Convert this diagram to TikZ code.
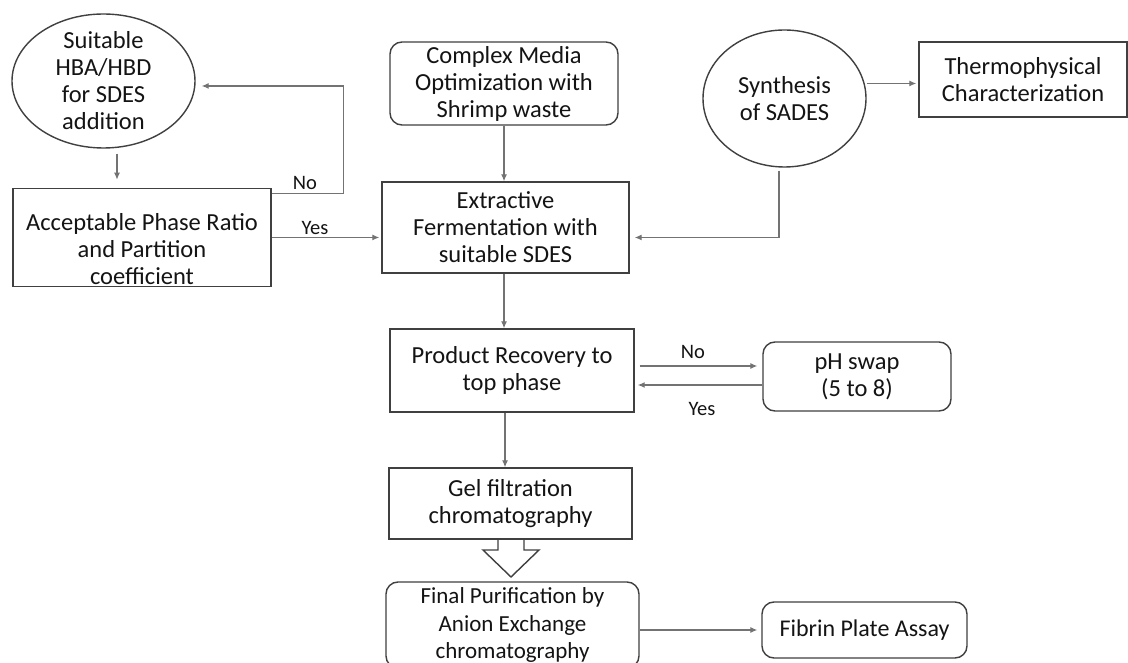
\documentclass[tikz,border=0pt]{standalone}
\usepackage{fontspec}
\setmainfont{Carlito}
\usetikzlibrary{shapes.geometric,arrows.meta}

\begin{document}
\begin{tikzpicture}[x=1pt,y=1pt,
  box/.style={draw=borderColor,line width=1.4pt,text=textColor,align=center,inner sep=2pt,font=\fontsize{24.5}{27}\selectfont},
  rbox/.style={box,rounded corners=12pt},
  oval/.style={box,ellipse,inner sep=-6pt},
  arr/.style={draw=lineColor,line width=1.2pt,-{Latex[length=7pt,width=6pt]}},
  lbl/.style={text=textColor,inner sep=0pt,font=\fontsize{20.5}{23}\selectfont}]
\definecolor[named]{borderColor}{rgb}{0.25,0.25,0.25}
\definecolor[named]{lineColor}{rgb}{0.45,0.45,0.45}
\definecolor[named]{textColor}{rgb}{0.08,0.08,0.08}
\path[use as bounding box,fill=white] (0,0) rectangle (1128,662);
\begin{scope}
\path[clip] (0,0) rectangle (1128,662);

\node[oval,minimum width=183,minimum height=134] (hba) at (103.5,581) {Suitable\\HBA/HBD\\for SDES\\addition};
\node[box,minimum width=258,minimum height=95] (acc) at (142,424.5) {\rule{0pt}{40pt}Acceptable Phase Ratio\\and Partition\\coefficient};
\node[rbox,minimum width=228,minimum height=83] (media) at (504,578.5) {Complex Media\\Optimization with\\Shrimp waste};
\node[box,minimum width=247,minimum height=91] (ext) at (505.5,434.5) {Extractive\\Fermentation with\\suitable SDES};
\node[oval,minimum width=163,minimum height=137] (sades) at (784.5,563.5) {Synthesis\\of SADES};
\node[box,minimum width=208,minimum height=75] (thermo) at (1023,582.5) {Thermophysical\\Characterization};
\node[box,minimum width=244,minimum height=83] (prod) at (512,291.5) {Product Recovery to\\top phase};
\node[rbox,minimum width=188,minimum height=69] (ph) at (857,285.5) {pH swap\\(5 to 8)};
\node[box,minimum width=243,minimum height=71] (gel) at (510.5,158.5) {Gel filtration\\chromatography};
\node[rbox,minimum width=253,minimum height=86,font=\fontsize{23}{27.5}\selectfont] (final) at (512.5,37) {Final Purification by\\Anion Exchange\\chromatography};
\node[rbox,minimum width=205,minimum height=56,font=\fontsize{24}{27}\selectfont] (fibrin) at (864.5,32) {Fibrin Plate Assay};

\draw[arr,shorten <=5pt,shorten >=8pt] ([xshift=13.5pt]hba.south) -- ([xshift=13.5pt]hba.south |- acc.north);
\draw[arr] ([yshift=-6pt]acc.north east) -- ++(72,0) |- ([xshift=6pt,yshift=-5pt]hba.east);
\draw[arr,shorten >=2pt] (acc.east) -- (acc.east -| ext.west);
\draw[arr] (media.south) -- (media.south |- ext.north);
\draw[arr,shorten >=2pt] ([yshift=15pt]sades.east) -- ([yshift=15pt]sades.east -| thermo.west);
\draw[arr,shorten >=5pt] ([xshift=-5.5pt,yshift=-3pt]sades.south) |- ([yshift=-10pt]ext.east);
\draw[arr] ([xshift=-1.5pt]ext.south) -- ([xshift=-1.5pt]ext.south |- prod.north);
\draw[arr,shorten <=5pt,shorten >=5pt] ([yshift=4.5pt]prod.east) -- ([yshift=4.5pt]prod.east -| ph.west);
\draw[arr,shorten >=3pt] ([yshift=-8.5pt]ph.west) -- ([yshift=-8.5pt]ph.west -| prod.east);
\draw[arr] ([xshift=-7pt]prod.south) -- ([xshift=-7pt]prod.south |- gel.north);
\draw[arr,shorten >=4pt] (final.east |- fibrin.west) -- (fibrin.west);

\draw[draw=borderColor,line width=1.4pt,line join=miter] (498,123) -- (498,112) -- (483,112) -- (511,85) -- (539,112) -- (524,112) -- (524,123);

\node[lbl] (no1) at (305,479) {No};
\node[lbl] (yes1) at (315,434) {Yes};
\node[lbl] (no2) at (693,310) {No};
\node[lbl] (yes2) at (702,253) {Yes};
\end{scope}
\end{tikzpicture}
\end{document}
